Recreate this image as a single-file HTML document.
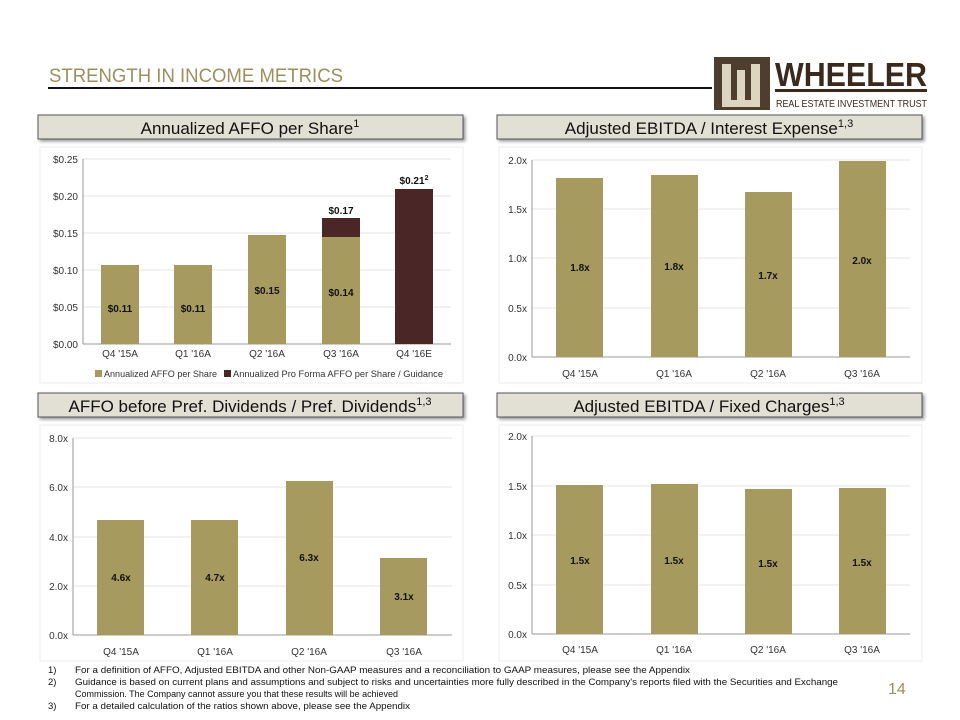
<!DOCTYPE html>
<html><head><meta charset="utf-8"><style>
body{margin:0;background:#fff;}
svg{display:block;font-family:"Liberation Sans",sans-serif;}
</style></head><body>
<svg width="960" height="720" viewBox="0 0 960 720">
<defs><filter id="sh" x="-5%" y="-30%" width="110%" height="180%"><feDropShadow dx="2" dy="2" stdDeviation="1.5" flood-color="#000" flood-opacity="0.4"/></filter></defs>
<!-- title -->
<text x="49" y="82" font-size="19" fill="#9d8f5e" textLength="294" lengthAdjust="spacingAndGlyphs">STRENGTH IN INCOME METRICS</text>
<line x1="48" y1="88" x2="712" y2="88" stroke="#111" stroke-width="2"/>
<!-- logo -->
<rect x="714" y="57" width="56" height="53" fill="#4e3e2e"/>
<path d="M722 64 h9 v36 h6 v-30 h8 v30 h6 v-36 h9 v43 h-38z" fill="#ddd5c0"/>
<text x="775" y="86" font-size="33" font-weight="bold" fill="#3a2a1e" textLength="152" lengthAdjust="spacingAndGlyphs">WHEELER</text>
<rect x="775" y="89" width="152" height="3" fill="#3a2a1e"/>
<text x="776" y="107" font-size="10.5" fill="#3a2a1e" textLength="151" lengthAdjust="spacingAndGlyphs">REAL ESTATE INVESTMENT TRUST</text>
<!-- header boxes -->
<g font-size="17" fill="#111" text-anchor="middle">
<rect x="38" y="115" width="425" height="24" fill="#e2dfd5" stroke="#555" filter="url(#sh)"/>
<text x="250" y="134">Annualized AFFO per Share<tspan font-size="11" dy="-7">1</tspan></text>
<rect x="497" y="115" width="425" height="24" fill="#e2dfd5" stroke="#555" filter="url(#sh)"/>
<text x="709" y="134">Adjusted EBITDA / Interest Expense<tspan font-size="11" dy="-7">1,3</tspan></text>
<rect x="38" y="393" width="425" height="24" fill="#e2dfd5" stroke="#555" filter="url(#sh)"/>
<text x="250" y="412">AFFO before Pref. Dividends / Pref. Dividends<tspan font-size="11" dy="-7">1,3</tspan></text>
<rect x="497" y="393" width="425" height="24" fill="#e2dfd5" stroke="#555" filter="url(#sh)"/>
<text x="709" y="412">Adjusted EBITDA / Fixed Charges<tspan font-size="11" dy="-7">1,3</tspan></text>
</g>
<g stroke="#eee" fill="none"><rect x="40" y="147" width="423" height="236"/><rect x="499" y="147" width="423" height="236"/><rect x="40" y="425" width="423" height="236"/><rect x="499" y="425" width="423" height="236"/></g>
<!-- chart1 -->
<g font-size="10" fill="#333">
<g stroke="#e4e4e4"><line x1="83" y1="159" x2="451" y2="159"/><line x1="83" y1="196" x2="451" y2="196"/><line x1="83" y1="233" x2="451" y2="233"/><line x1="83" y1="270" x2="451" y2="270"/><line x1="83" y1="307" x2="451" y2="307"/></g>
<line x1="83" y1="159" x2="83" y2="344" stroke="#999"/><line x1="83" y1="344" x2="451" y2="344" stroke="#999"/>
<g text-anchor="end"><text x="78" y="163">$0.25</text><text x="78" y="200">$0.20</text><text x="78" y="237">$0.15</text><text x="78" y="274">$0.10</text><text x="78" y="311">$0.05</text><text x="78" y="348">$0.00</text></g>
<rect x="101" y="265" width="38" height="79" fill="#a69a5e"/>
<rect x="174" y="265" width="38" height="79" fill="#a69a5e"/>
<rect x="248" y="235" width="38" height="109" fill="#a69a5e"/>
<rect x="322" y="237" width="38" height="107" fill="#a69a5e"/>
<rect x="322" y="218" width="38" height="19" fill="#4a2626"/>
<rect x="395" y="189" width="38" height="155" fill="#4a2626"/>
<g text-anchor="middle" font-weight="bold" fill="#111"><text x="120" y="312">$0.11</text><text x="193" y="312">$0.11</text><text x="267" y="294">$0.15</text><text x="341" y="296">$0.14</text><text x="341" y="214">$0.17</text><text x="414" y="184">$0.21<tspan font-size="7" dy="-4">2</tspan></text></g>
<g text-anchor="middle"><text x="120" y="357">Q4 '15A</text><text x="193" y="357">Q1 '16A</text><text x="267" y="357">Q2 '16A</text><text x="341" y="357">Q3 '16A</text><text x="414" y="357">Q4 '16E</text></g>
<rect x="95" y="370" width="7" height="7" fill="#a69a5e"/><text x="104" y="377" font-size="9.5" textLength="113" lengthAdjust="spacingAndGlyphs">Annualized AFFO per Share</text>
<rect x="224" y="370" width="7" height="7" fill="#4a2626"/><text x="233" y="377" font-size="9.5" textLength="210" lengthAdjust="spacingAndGlyphs">Annualized Pro Forma AFFO per Share / Guidance</text>
</g>
<!-- chart2 -->
<g font-size="10" fill="#333">
<g stroke="#e4e4e4"><line x1="532" y1="160" x2="910" y2="160"/><line x1="532" y1="209" x2="910" y2="209"/><line x1="532" y1="258" x2="910" y2="258"/><line x1="532" y1="308" x2="910" y2="308"/></g>
<line x1="532" y1="160" x2="532" y2="357" stroke="#999"/><line x1="532" y1="357" x2="910" y2="357" stroke="#999"/>
<g text-anchor="end"><text x="527" y="164">2.0x</text><text x="527" y="213">1.5x</text><text x="527" y="262">1.0x</text><text x="527" y="312">0.5x</text><text x="527" y="361">0.0x</text></g>
<rect x="556" y="178" width="47" height="179" fill="#a69a5e"/>
<rect x="651" y="175" width="47" height="182" fill="#a69a5e"/>
<rect x="745" y="192" width="47" height="165" fill="#a69a5e"/>
<rect x="839" y="161" width="47" height="196" fill="#a69a5e"/>
<g text-anchor="middle" font-weight="bold" fill="#111"><text x="580" y="271">1.8x</text><text x="674" y="270">1.8x</text><text x="768" y="279">1.7x</text><text x="862" y="264">2.0x</text></g>
<g text-anchor="middle"><text x="580" y="377">Q4 '15A</text><text x="674" y="377">Q1 '16A</text><text x="768" y="377">Q2 '16A</text><text x="862" y="377">Q3 '16A</text></g>
</g>
<!-- chart3 -->
<g font-size="10" fill="#333">
<g stroke="#e4e4e4"><line x1="73" y1="438" x2="452" y2="438"/><line x1="73" y1="487" x2="452" y2="487"/><line x1="73" y1="537" x2="452" y2="537"/><line x1="73" y1="586" x2="452" y2="586"/></g>
<line x1="73" y1="438" x2="73" y2="635" stroke="#999"/><line x1="73" y1="635" x2="452" y2="635" stroke="#999"/>
<g text-anchor="end"><text x="68" y="442">8.0x</text><text x="68" y="491">6.0x</text><text x="68" y="541">4.0x</text><text x="68" y="590">2.0x</text><text x="68" y="639">0.0x</text></g>
<rect x="97" y="520" width="47" height="115" fill="#a69a5e"/>
<rect x="191" y="520" width="47" height="115" fill="#a69a5e"/>
<rect x="286" y="481" width="47" height="154" fill="#a69a5e"/>
<rect x="380" y="558" width="47" height="77" fill="#a69a5e"/>
<g text-anchor="middle" font-weight="bold" fill="#111"><text x="121" y="581">4.6x</text><text x="215" y="581">4.7x</text><text x="309" y="561">6.3x</text><text x="404" y="600">3.1x</text></g>
<g text-anchor="middle"><text x="121" y="655">Q4 '15A</text><text x="215" y="655">Q1 '16A</text><text x="309" y="655">Q2 '16A</text><text x="404" y="655">Q3 '16A</text></g>
</g>
<!-- chart4 -->
<g font-size="10" fill="#333">
<g stroke="#e4e4e4"><line x1="532" y1="436" x2="910" y2="436"/><line x1="532" y1="486" x2="910" y2="486"/><line x1="532" y1="535" x2="910" y2="535"/><line x1="532" y1="585" x2="910" y2="585"/></g>
<line x1="532" y1="436" x2="532" y2="634" stroke="#999"/><line x1="532" y1="634" x2="910" y2="634" stroke="#999"/>
<g text-anchor="end"><text x="527" y="440">2.0x</text><text x="527" y="490">1.5x</text><text x="527" y="539">1.0x</text><text x="527" y="589">0.5x</text><text x="527" y="638">0.0x</text></g>
<rect x="556" y="485" width="47" height="149" fill="#a69a5e"/>
<rect x="651" y="484" width="47" height="150" fill="#a69a5e"/>
<rect x="745" y="489" width="47" height="145" fill="#a69a5e"/>
<rect x="839" y="488" width="47" height="146" fill="#a69a5e"/>
<g text-anchor="middle" font-weight="bold" fill="#111"><text x="580" y="564">1.5x</text><text x="674" y="564">1.5x</text><text x="768" y="567">1.5x</text><text x="862" y="566">1.5x</text></g>
<g text-anchor="middle"><text x="580" y="653">Q4 '15A</text><text x="674" y="653">Q1 '16A</text><text x="768" y="653">Q2 '16A</text><text x="862" y="653">Q3 '16A</text></g>
</g>
<!-- footnotes -->
<g font-size="9.5" fill="#111">
<text x="48" y="673">1)</text><text x="75" y="673" textLength="615" lengthAdjust="spacingAndGlyphs">For a definition of AFFO, Adjusted EBITDA and other Non-GAAP measures and a reconciliation to GAAP measures, please see the Appendix</text>
<text x="48" y="685">2)</text><text x="75" y="685" textLength="763" lengthAdjust="spacingAndGlyphs">Guidance is based on current plans and assumptions and subject to risks and uncertainties more fully described in the Company's reports filed with the Securities and Exchange</text>
<text x="75" y="697" textLength="323" lengthAdjust="spacingAndGlyphs">Commission. The Company cannot assure you that these results will be achieved</text>
<text x="48" y="709">3)</text><text x="75" y="709" textLength="335" lengthAdjust="spacingAndGlyphs">For a detailed calculation of the ratios shown above, please see the Appendix</text>
</g>
<text x="888" y="694" font-size="16" fill="#9d8f5e">14</text>
</svg>
</body></html>
